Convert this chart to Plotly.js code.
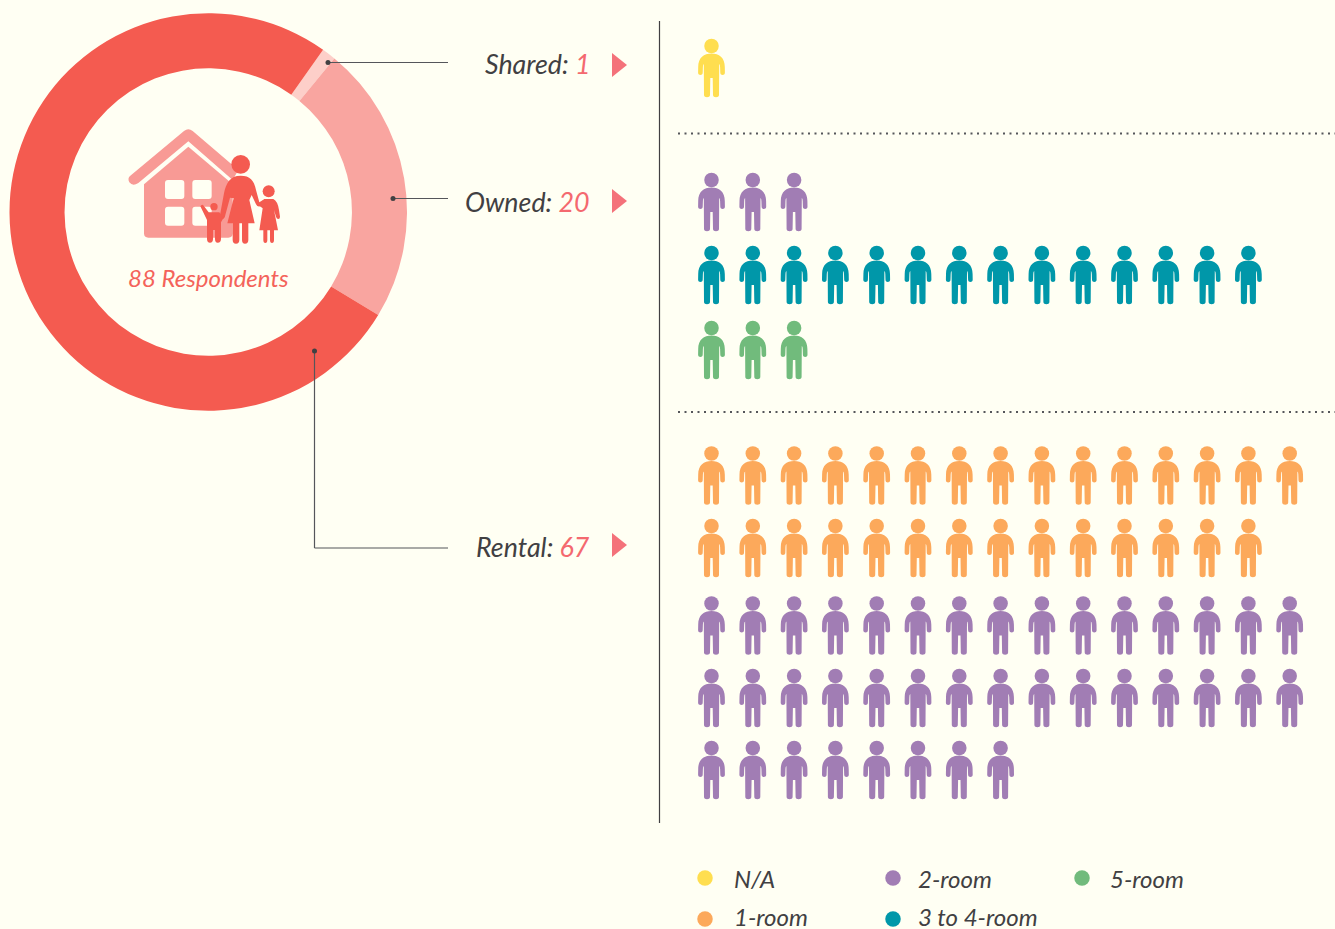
<!DOCTYPE html>
<html>
<head>
<meta charset="utf-8">
<script src="https://cdn.plot.ly/plotly-3.0.1.min.js"></script>
<style>html,body{margin:0;padding:0;background:#FFFFF3;overflow:hidden}#c{width:1335px;height:929px}</style>
</head>
<body>
<div id="c"></div>
<script>
// ---------- DATA ----------
const tenures = ['Shared', 'Owned', 'Rental'];
const tenureCounts = [1, 20, 67];
const respondents = 88;
const roomLabels = ['N/A', '2-room', '5-room', '1-room', '3 to 4-room'];
const sharedRooms = ['N/A'];
const sharedRoomCounts = [1];
const ownedRooms = ['2-room', '3 to 4-room', '5-room'];
const ownedRoomCounts = [3, 14, 3];
const rentalRooms = ['1-room', '2-room'];
const rentalRoomCounts = [29, 38];

// ---------- STYLE / LAYOUT CONSTANTS ----------
const W = 1335, H = 929, BG = '#FFFFF3';
const FONT = 'Lato';
const INK = '#414042', NUM = '#F4696F', RED = '#F45B50', HOUSE = '#F89A95';
const tenureColors = ['#FDCFC9', '#F9A5A0', RED];
const roomColors = {'N/A':'#FFDE4F','1-room':'#FCA95B','2-room':'#A17DB4','3 to 4-room':'#0097A9','5-room':'#71BB7C'};
const COL0 = 711.5, COLSTEP = 41.3, PER_ROW = 15;
const sharedRows = [46];
const ownedRows = [180, 253, 328];
const rentalRows = [453.5, 526, 603.5, 676, 748];

// ---------- HELPERS ----------
const seg = s => s.map(a => a[0] + a.slice(1).join(' ')).join(' ');
// person body drawn in pixels relative to the head centre (y down in the table, flipped for pixel-anchored shapes)
const BODY = [
 ['M',0,7.4],['C',7.5,7.4,13.3,11.5,13.3,21],['L',13.4,26.8],['C',13.4,29.8,8.8,29.8,8.8,26.8],['L',8.6,21],['Q',8.6,18.5,7.7,18],
 ['L',7.5,49],['C',7.5,52,1.5,52,1.5,49],['L',1.2,32],['L',-1.2,32],['L',-1.5,49],['C',-1.5,52,-7.5,52,-7.5,49],
 ['L',-7.7,18],['Q',-8.6,18.5,-8.6,21],['L',-8.8,26.8],['C',-8.8,29.8,-13.4,29.8,-13.4,26.8],['L',-13.3,21],['C',-13.3,11.5,-7.5,7.4,0,7.4],['Z']
];
const bodyPath = seg(BODY.map(a => {
  const o = [a[0]];
  for (let i = 1; i < a.length; i += 2) o.push(a[i], -a[i+1]);
  return o;
}));

const traces = [];
const shapes = [];
const annotations = [];

traces.push({
  type:'pie', labels:tenures, values:tenureCounts, sort:false, direction:'clockwise', rotation:35.3,
  hole:0.723, textinfo:'none', marker:{colors:tenureColors, line:{width:0}}, showlegend:false,
  domain:{x:[9.5/W,407/W], y:[1-411/H,1-13/H]}
});

function addGroup(tenure, rooms, counts, rows) {
  let rowIdx = 0;
  rooms.forEach((room, r) => {
    const xs = [], ys = [];
    let col = 0;
    for (let i = 0; i < counts[r]; i++) {
      if (col === PER_ROW) { col = 0; rowIdx++; }
      xs.push(COL0 + col * COLSTEP); ys.push(rows[rowIdx]);
      shapes.push({type:'path', xref:'x', yref:'y', xsizemode:'pixel', ysizemode:'pixel',
        xanchor:xs[xs.length-1], yanchor:ys[ys.length-1], path:bodyPath,
        fillcolor:roomColors[room], line:{width:0}});
      col++;
    }
    rowIdx++;
    traces.push({type:'scatter', mode:'markers', x:xs, y:ys, name:tenure+' '+room, showlegend:false,
      marker:{size:14.5, color:roomColors[room], line:{width:0}}, hoverinfo:'name'});
  });
}
addGroup('Shared', sharedRooms, sharedRoomCounts, sharedRows);
addGroup('Owned', ownedRooms, ownedRoomCounts, ownedRows);
addGroup('Rental', rentalRooms, rentalRoomCounts, rentalRows);

// legend
const legX = [705, 893, 1082, 705, 893], legY = [878, 878, 878, 919, 919], legTx = [731.5, 916, 1108, 732, 916];
const legTy = [877.5, 877.5, 877.5, 915.5, 915.5];
traces.push({type:'scatter', mode:'markers', x:legX, y:legY, showlegend:false, hoverinfo:'text', text:roomLabels,
  marker:{size:15.5, color:roomLabels.map(l => roomColors[l]), line:{width:0}}});
roomLabels.forEach((l,i) => annotations.push({xref:'x', yref:'y', x:legTx[i], y:legTy[i], text:l, showarrow:false, height:26,
  xanchor:'left', yanchor:'middle', font:{family:FONT, size:24, style:'italic', color:INK}}));

// leaders + labels + triangles
const line = (x0,y0,x1,y1,color,width,dash) => ({type:'line', xref:'x', yref:'y', x0,y0,x1,y1, line:{color,width,dash:dash||'solid'}});
const dot = (x,y,r) => ({type:'circle', xref:'x', yref:'y', x0:x-r,x1:x+r,y0:y-r,y1:y+r, fillcolor:'#414042', line:{width:0}});
shapes.push(line(328,62.5,448,62.5,'#55565A',1.2), dot(328,62.5,2.5));
shapes.push(line(393,198.5,448,198.5,'#55565A',1.2), dot(393,198.5,2.5));
shapes.push(line(314.5,351,314.5,548,'#55565A',1.2), line(314.5,548,448,548,'#55565A',1.2), dot(314.5,351,2.5));
shapes.push(line(659.5,21,659.5,823,'#414042',1.2));
shapes.push(line(678,133.5,1335,133.5,'#55565A',2,'2px,4.5px'), line(678,412,1335,412,'#55565A',2,'2px,4.5px'));
const labelY = [63.5, 201.5, 546.5], triTop = [53, 189, 533];
tenures.forEach((t,i) => {
  annotations.push({xref:'x', yref:'y', x:591.5, y:labelY[i], xanchor:'right', yanchor:'middle', showarrow:false,
    text:t+': <span style="color:'+NUM+'">'+tenureCounts[i]+'</span>', font:{family:FONT, size:26.8, style:'italic', color:INK}});
  const y = triTop[i];
  shapes.push({type:'path', xref:'x', yref:'y', path:`M612 ${y} L627 ${y+12} L612 ${y+24} Z`, fillcolor:'#F4727A', line:{width:0}});
});

// centre icon, given in a 3x local frame
const ix = x => +(110 + x/3).toFixed(2), iy = y => +(115 + y/3).toFixed(2);
const icon = s => s.map(a => { const o=[a[0]]; for(let i=1;i<a.length;i+=2) o.push(ix(a[i]), iy(a[i+1])); return o; });
const addIcon = (s,c) => shapes.push({type:'path', xref:'x', yref:'y', path:seg(icon(s)), fillcolor:c, line:{width:0}});
const addCirc = (x,y,r,c) => shapes.push({type:'circle', xref:'x', yref:'y', x0:ix(x-r),x1:ix(x+r),y0:iy(y-r),y1:iy(y+r), fillcolor:c, line:{width:0}});
addIcon([['M',60,183],['L',222,48],['Q',235,37,248,48],['L',385,165],['L',368,195],['L',235,79],['L',85,204],['Q',68,215,58,202],['Q',52,190,60,183],['Z']], HOUSE);
addIcon([['M',235,95],['L',368,208],['L',368,355],['Q',368,368,355,368],['L',115,368],['Q',102,368,102,355],['L',102,208],['Z']], HOUSE);
[[165,195],[247,195],[165,275],[247,275]].forEach(p => {
  const [x,y]=p, w=58, h=57, r=9;
  addIcon([['M',x+r,y],['L',x+w-r,y],['Q',x+w,y,x+w,y+r],['L',x+w,y+h-r],['Q',x+w,y+h,x+w-r,y+h],['L',x+r,y+h],['Q',x,y+h,x,y+h-r],['L',x,y+r],['Q',x,y,x+r,y],['Z']], BG);
});
addCirc(392,148,28,RED);
addIcon([['M',392,182],['C',360,182,348,205,342,235],['L',330,300],['Q',328,312,337,312],['Q',344,312,346,300],['L',360,248],['L',371,250],['L',352,325],['L',368,325],['L',368,375],['Q',368,386,378,386],['Q',388,386,388,375],['L',388,325],['L',396,325],['L',396,375],['Q',396,386,405,386],['Q',415,386,415,375],['L',415,325],['L',434,325],['L',418,255],['L',425,240],['L',438,268],['Q',444,280,458,270],['L',466,262],['L',460,254],['L',448,262],['L',438,225],['C',432,195,420,182,392,182],['Z']], RED);
addCirc(312,275,11,RED);
addIcon([['M',271,274],['Q',276,266,281,272],['L',296,292],['L',328,292],['L',340,310],['L',333,322],['L',333,372],['Q',333,383,323,383],['Q',315,383,315,372],['L',315,345],['L',309,345],['L',309,372],['Q',309,383,300,383],['Q',291,383,291,372],['L',291,315],['Z']], RED);
addCirc(476,229,18,RED);
addIcon([['M',462,252],['L',490,252],['Q',503,258,507,285],['L',510,305],['Q',510,312,505,312],['Q',500,312,498,305],['L',492,285],['L',504,346],['L',492,346],['L',492,375],['Q',492,384,486,384],['Q',480,384,480,375],['L',480,346],['L',472,346],['L',472,375],['Q',472,384,466,384],['Q',460,384,460,375],['L',460,346],['L',448,346],['L',458,280],['L',448,272],['Z']], RED);
annotations.push({xref:'x', yref:'y', x:208, y:277, text:respondents+' Respondents', showarrow:false, xanchor:'center', yanchor:'middle',
  font:{family:FONT, size:24, style:'italic', color:'#F4635A'}});

Plotly.newPlot('c', traces, {
  width:W, height:H, margin:{l:0,r:0,t:0,b:0}, paper_bgcolor:BG, plot_bgcolor:BG, showlegend:false,
  xaxis:{range:[0,W], visible:false, fixedrange:true},
  yaxis:{range:[H,0], visible:false, fixedrange:true},
  shapes, annotations
}, {displayModeBar:false, staticPlot:true});
</script>
</body>
</html>
